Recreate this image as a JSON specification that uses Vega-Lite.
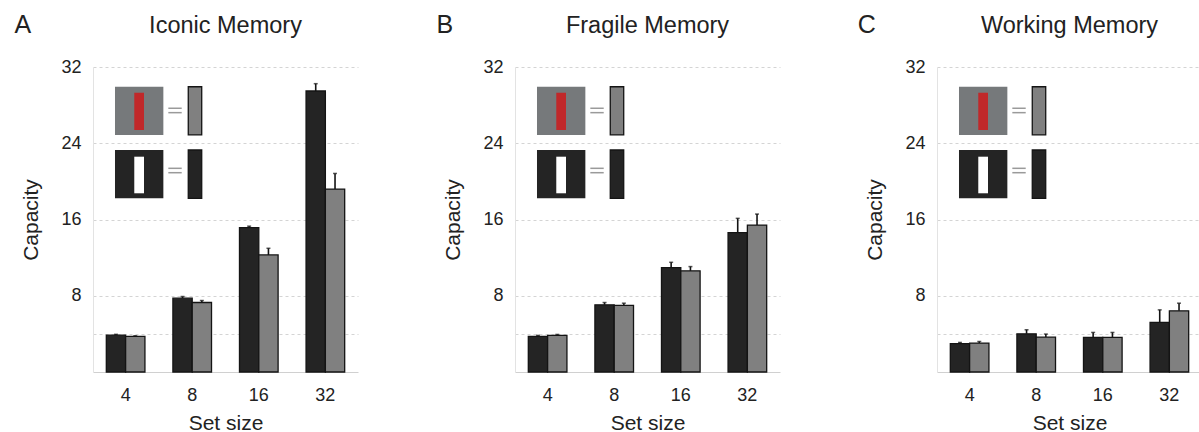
{
  "$schema": "https://vega.github.io/schema/vega-lite/v6.json",
  "padding": {"left": 14, "top": 13, "right": 0, "bottom": 0},
  "background": "white",
  "config": {
    "view": {"stroke": null},
    "font": "Liberation Sans",
    "title": {"fontSize": 23.5, "fontWeight": "normal", "color": "#222222", "anchor": "middle", "frame": "group", "baseline": "alphabetic", "offset": -24, "font": "Liberation Sans"},
    "axis": {"labelFont": "Liberation Sans", "titleFont": "Liberation Sans", "labelColor": "#222222", "titleColor": "#222222", "titleFontWeight": "normal", "labelFontSize": 18, "titleFontSize": 21}
  },
  "datasets": {
    "bars": [
      {"panel": "A", "set_size": "4", "condition": "dark", "capacity": 3.87, "upper": 3.95},
      {"panel": "A", "set_size": "4", "condition": "gray", "capacity": 3.73, "upper": 3.80},
      {"panel": "A", "set_size": "8", "condition": "dark", "capacity": 7.75, "upper": 7.92},
      {"panel": "A", "set_size": "8", "condition": "gray", "capacity": 7.29, "upper": 7.50},
      {"panel": "A", "set_size": "16", "condition": "dark", "capacity": 15.14, "upper": 15.30},
      {"panel": "A", "set_size": "16", "condition": "gray", "capacity": 12.28, "upper": 12.98},
      {"panel": "A", "set_size": "32", "condition": "dark", "capacity": 29.48, "upper": 30.25},
      {"panel": "A", "set_size": "32", "condition": "gray", "capacity": 19.19, "upper": 20.83},
      {"panel": "B", "set_size": "4", "condition": "dark", "capacity": 3.73, "upper": 3.84},
      {"panel": "B", "set_size": "4", "condition": "gray", "capacity": 3.84, "upper": 3.94},
      {"panel": "B", "set_size": "8", "condition": "dark", "capacity": 7.05, "upper": 7.29},
      {"panel": "B", "set_size": "8", "condition": "gray", "capacity": 6.98, "upper": 7.22},
      {"panel": "B", "set_size": "16", "condition": "dark", "capacity": 10.96, "upper": 11.51},
      {"panel": "B", "set_size": "16", "condition": "gray", "capacity": 10.61, "upper": 11.06},
      {"panel": "B", "set_size": "32", "condition": "dark", "capacity": 14.62, "upper": 16.12},
      {"panel": "B", "set_size": "32", "condition": "gray", "capacity": 15.42, "upper": 16.57},
      {"panel": "C", "set_size": "4", "condition": "dark", "capacity": 2.97, "upper": 3.10},
      {"panel": "C", "set_size": "4", "condition": "gray", "capacity": 3.04, "upper": 3.20},
      {"panel": "C", "set_size": "8", "condition": "dark", "capacity": 4.01, "upper": 4.43},
      {"panel": "C", "set_size": "8", "condition": "gray", "capacity": 3.66, "upper": 3.98},
      {"panel": "C", "set_size": "16", "condition": "dark", "capacity": 3.63, "upper": 4.15},
      {"panel": "C", "set_size": "16", "condition": "gray", "capacity": 3.63, "upper": 4.15},
      {"panel": "C", "set_size": "32", "condition": "dark", "capacity": 5.20, "upper": 6.52},
      {"panel": "C", "set_size": "32", "condition": "gray", "capacity": 6.42, "upper": 7.22}
    ],
    "inset_stimuli": [
      {"part": "gray square", "x": 0.332, "x2": 1.062, "y": 24.87, "y2": 29.93},
      {"part": "red bar", "x": 0.623, "x2": 0.770, "y": 25.39, "y2": 29.30},
      {"part": "black square", "x": 0.332, "x2": 1.062, "y": 18.22, "y2": 23.29},
      {"part": "white bar", "x": 0.623, "x2": 0.770, "y": 18.75, "y2": 22.59}
    ],
    "inset_keys": [
      {"condition": "gray", "x": 1.438, "x2": 1.641, "y": 24.87, "y2": 29.93},
      {"condition": "dark", "x": 1.438, "x2": 1.641, "y": 18.22, "y2": 23.29}
    ],
    "inset_equals": [
      {"x": 1.137, "x2": 1.339, "y": 27.67},
      {"x": 1.137, "x2": 1.339, "y": 27.21},
      {"x": 1.137, "x2": 1.339, "y": 21.37},
      {"x": 1.137, "x2": 1.339, "y": 20.91}
    ]
  },
  "hconcat": [
    {
      "width": 265, "height": 305,
      "title": {"text": "Iconic Memory"},
      "resolve": {"scale": {"x": "independent"}},
      "layer": [
        {
          "data": {"name": "bars"},
          "transform": [{"filter": "datum.panel == 'A'"}],
          "encoding": {
            "x": {"field": "set_size", "type": "ordinal", "sort": ["4", "8", "16", "32"], "scale": {"paddingInner": 0.42}, "axis": {"title": "Set size", "labelAngle": 0, "ticks": false, "grid": false, "domainColor": "#d0d0d0", "labelPadding": 14, "titlePadding": 8}},
            "xOffset": {"field": "condition", "sort": ["dark", "gray"], "scale": {"paddingInner": 0}}
          },
          "layer": [
            {"mark": {"type": "bar", "stroke": "#141414", "strokeWidth": 1.3},
             "encoding": {
               "y": {"field": "capacity", "type": "quantitative", "scale": {"domain": [0, 32], "nice": false}, "axis": {"title": "Capacity", "values": [4, 8, 16, 24, 32], "labelExpr": "datum.value == 4 ? '' : datum.label", "grid": true, "gridDash": [3, 3], "gridColor": "#d4d4d4", "ticks": false, "domainColor": "#e3e3e3", "labelPadding": 12, "titlePadding": 19}},
               "fill": {"field": "condition", "type": "nominal", "scale": {"domain": ["dark", "gray", "gray square", "red bar", "black square", "white bar"], "range": ["#242424", "#808080", "#76797b", "#c0282a", "#242424", "#ffffff"]}, "legend": null}
             }},
            {"mark": {"type": "rule", "color": "#141414", "strokeWidth": 1.6},
             "encoding": {"y": {"field": "capacity", "type": "quantitative"}, "y2": {"field": "upper"}}},
            {"mark": {"type": "tick", "color": "#141414", "thickness": 1.5, "size": 4},
             "encoding": {"y": {"field": "upper", "type": "quantitative"}}}
          ]
        },
        {
          "layer": [
            {"data": {"name": "inset_stimuli"}, "mark": {"type": "rect"},
             "encoding": {
               "x": {"field": "x", "type": "quantitative", "scale": {"domain": [0, 4], "nice": false, "zero": false}, "axis": null},
               "x2": {"field": "x2"},
               "y": {"field": "y", "type": "quantitative"},
               "y2": {"field": "y2"},
               "fill": {"field": "part", "type": "nominal", "scale": {"domain": ["dark", "gray", "gray square", "red bar", "black square", "white bar"], "range": ["#242424", "#808080", "#76797b", "#c0282a", "#242424", "#ffffff"]}, "legend": null}
             }},
            {"data": {"name": "inset_keys"}, "mark": {"type": "rect", "stroke": "#141414", "strokeWidth": 1.3},
             "encoding": {
               "x": {"field": "x", "type": "quantitative"},
               "x2": {"field": "x2"},
               "y": {"field": "y", "type": "quantitative"},
               "y2": {"field": "y2"},
               "fill": {"field": "condition", "type": "nominal", "scale": {"domain": ["dark", "gray", "gray square", "red bar", "black square", "white bar"], "range": ["#242424", "#808080", "#76797b", "#c0282a", "#242424", "#ffffff"]}, "legend": null}
             }},
            {"data": {"name": "inset_equals"}, "mark": {"type": "rule", "color": "#9a9a9a", "strokeWidth": 1.5},
             "encoding": {
               "x": {"field": "x", "type": "quantitative"},
               "x2": {"field": "x2"},
               "y": {"field": "y", "type": "quantitative"}
             }},
            {"data": {"values": [{"letter": "A"}]}, "mark": {"type": "text", "fontSize": 25, "font": "Liberation Sans", "color": "#222222", "align": "center", "baseline": "middle"},
             "encoding": {
               "x": {"datum": -1.06, "type": "quantitative"},
               "y": {"datum": 36.4, "type": "quantitative"},
               "text": {"field": "letter"}
             }}
          ]
        }
      ]
    },
    {
      "width": 265, "height": 305,
      "title": {"text": "Fragile Memory"},
      "resolve": {"scale": {"x": "independent"}},
      "layer": [
        {
          "data": {"name": "bars"},
          "transform": [{"filter": "datum.panel == 'B'"}],
          "encoding": {
            "x": {"field": "set_size", "type": "ordinal", "sort": ["4", "8", "16", "32"], "scale": {"paddingInner": 0.42}, "axis": {"title": "Set size", "labelAngle": 0, "ticks": false, "grid": false, "domainColor": "#d0d0d0", "labelPadding": 14, "titlePadding": 8}},
            "xOffset": {"field": "condition", "sort": ["dark", "gray"], "scale": {"paddingInner": 0}}
          },
          "layer": [
            {"mark": {"type": "bar", "stroke": "#141414", "strokeWidth": 1.3},
             "encoding": {
               "y": {"field": "capacity", "type": "quantitative", "scale": {"domain": [0, 32], "nice": false}, "axis": {"title": "Capacity", "values": [4, 8, 16, 24, 32], "labelExpr": "datum.value == 4 ? '' : datum.label", "grid": true, "gridDash": [3, 3], "gridColor": "#d4d4d4", "ticks": false, "domainColor": "#e3e3e3", "labelPadding": 12, "titlePadding": 19}},
               "fill": {"field": "condition", "type": "nominal", "scale": {"domain": ["dark", "gray", "gray square", "red bar", "black square", "white bar"], "range": ["#242424", "#808080", "#76797b", "#c0282a", "#242424", "#ffffff"]}, "legend": null}
             }},
            {"mark": {"type": "rule", "color": "#141414", "strokeWidth": 1.6},
             "encoding": {"y": {"field": "capacity", "type": "quantitative"}, "y2": {"field": "upper"}}},
            {"mark": {"type": "tick", "color": "#141414", "thickness": 1.5, "size": 4},
             "encoding": {"y": {"field": "upper", "type": "quantitative"}}}
          ]
        },
        {
          "layer": [
            {"data": {"name": "inset_stimuli"}, "mark": {"type": "rect"},
             "encoding": {
               "x": {"field": "x", "type": "quantitative", "scale": {"domain": [0, 4], "nice": false, "zero": false}, "axis": null},
               "x2": {"field": "x2"},
               "y": {"field": "y", "type": "quantitative"},
               "y2": {"field": "y2"},
               "fill": {"field": "part", "type": "nominal", "scale": {"domain": ["dark", "gray", "gray square", "red bar", "black square", "white bar"], "range": ["#242424", "#808080", "#76797b", "#c0282a", "#242424", "#ffffff"]}, "legend": null}
             }},
            {"data": {"name": "inset_keys"}, "mark": {"type": "rect", "stroke": "#141414", "strokeWidth": 1.3},
             "encoding": {
               "x": {"field": "x", "type": "quantitative"},
               "x2": {"field": "x2"},
               "y": {"field": "y", "type": "quantitative"},
               "y2": {"field": "y2"},
               "fill": {"field": "condition", "type": "nominal", "scale": {"domain": ["dark", "gray", "gray square", "red bar", "black square", "white bar"], "range": ["#242424", "#808080", "#76797b", "#c0282a", "#242424", "#ffffff"]}, "legend": null}
             }},
            {"data": {"name": "inset_equals"}, "mark": {"type": "rule", "color": "#9a9a9a", "strokeWidth": 1.5},
             "encoding": {
               "x": {"field": "x", "type": "quantitative"},
               "x2": {"field": "x2"},
               "y": {"field": "y", "type": "quantitative"}
             }},
            {"data": {"values": [{"letter": "B"}]}, "mark": {"type": "text", "fontSize": 25, "font": "Liberation Sans", "color": "#222222", "align": "center", "baseline": "middle"},
             "encoding": {
               "x": {"datum": -1.06, "type": "quantitative"},
               "y": {"datum": 36.4, "type": "quantitative"},
               "text": {"field": "letter"}
             }}
          ]
        }
      ]
    },
    {
      "width": 265, "height": 305,
      "title": {"text": "Working Memory"},
      "resolve": {"scale": {"x": "independent"}},
      "layer": [
        {
          "data": {"name": "bars"},
          "transform": [{"filter": "datum.panel == 'C'"}],
          "encoding": {
            "x": {"field": "set_size", "type": "ordinal", "sort": ["4", "8", "16", "32"], "scale": {"paddingInner": 0.42}, "axis": {"title": "Set size", "labelAngle": 0, "ticks": false, "grid": false, "domainColor": "#d0d0d0", "labelPadding": 14, "titlePadding": 8}},
            "xOffset": {"field": "condition", "sort": ["dark", "gray"], "scale": {"paddingInner": 0}}
          },
          "layer": [
            {"mark": {"type": "bar", "stroke": "#141414", "strokeWidth": 1.3},
             "encoding": {
               "y": {"field": "capacity", "type": "quantitative", "scale": {"domain": [0, 32], "nice": false}, "axis": {"title": "Capacity", "values": [4, 8, 16, 24, 32], "labelExpr": "datum.value == 4 ? '' : datum.label", "grid": true, "gridDash": [3, 3], "gridColor": "#d4d4d4", "ticks": false, "domainColor": "#e3e3e3", "labelPadding": 12, "titlePadding": 19}},
               "fill": {"field": "condition", "type": "nominal", "scale": {"domain": ["dark", "gray", "gray square", "red bar", "black square", "white bar"], "range": ["#242424", "#808080", "#76797b", "#c0282a", "#242424", "#ffffff"]}, "legend": null}
             }},
            {"mark": {"type": "rule", "color": "#141414", "strokeWidth": 1.6},
             "encoding": {"y": {"field": "capacity", "type": "quantitative"}, "y2": {"field": "upper"}}},
            {"mark": {"type": "tick", "color": "#141414", "thickness": 1.5, "size": 4},
             "encoding": {"y": {"field": "upper", "type": "quantitative"}}}
          ]
        },
        {
          "layer": [
            {"data": {"name": "inset_stimuli"}, "mark": {"type": "rect"},
             "encoding": {
               "x": {"field": "x", "type": "quantitative", "scale": {"domain": [0, 4], "nice": false, "zero": false}, "axis": null},
               "x2": {"field": "x2"},
               "y": {"field": "y", "type": "quantitative"},
               "y2": {"field": "y2"},
               "fill": {"field": "part", "type": "nominal", "scale": {"domain": ["dark", "gray", "gray square", "red bar", "black square", "white bar"], "range": ["#242424", "#808080", "#76797b", "#c0282a", "#242424", "#ffffff"]}, "legend": null}
             }},
            {"data": {"name": "inset_keys"}, "mark": {"type": "rect", "stroke": "#141414", "strokeWidth": 1.3},
             "encoding": {
               "x": {"field": "x", "type": "quantitative"},
               "x2": {"field": "x2"},
               "y": {"field": "y", "type": "quantitative"},
               "y2": {"field": "y2"},
               "fill": {"field": "condition", "type": "nominal", "scale": {"domain": ["dark", "gray", "gray square", "red bar", "black square", "white bar"], "range": ["#242424", "#808080", "#76797b", "#c0282a", "#242424", "#ffffff"]}, "legend": null}
             }},
            {"data": {"name": "inset_equals"}, "mark": {"type": "rule", "color": "#9a9a9a", "strokeWidth": 1.5},
             "encoding": {
               "x": {"field": "x", "type": "quantitative"},
               "x2": {"field": "x2"},
               "y": {"field": "y", "type": "quantitative"}
             }},
            {"data": {"values": [{"letter": "C"}]}, "mark": {"type": "text", "fontSize": 25, "font": "Liberation Sans", "color": "#222222", "align": "center", "baseline": "middle"},
             "encoding": {
               "x": {"datum": -1.06, "type": "quantitative"},
               "y": {"datum": 36.4, "type": "quantitative"},
               "text": {"field": "letter"}
             }}
          ]
        }
      ]
    }
  ],
  "spacing": 157,
  "bounds": "flush"
}
